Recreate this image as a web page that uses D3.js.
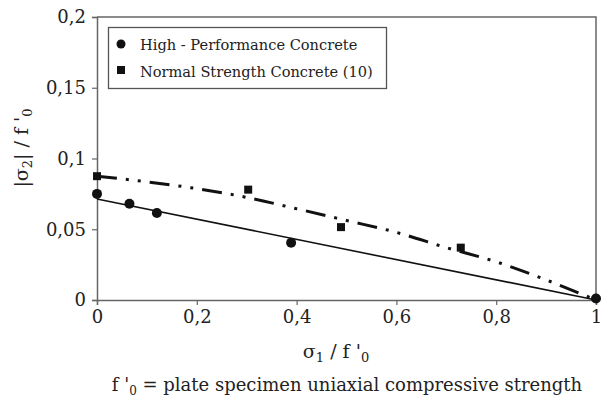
<!DOCTYPE html>
<html>
<head>
<meta charset="utf-8">
<script src="https://cdn.jsdelivr.net/npm/d3@7"></script>
<style>
  body { margin: 0; background: #fff; }
  svg text { font-family: "DejaVu Serif", "Liberation Serif", serif; }
</style>
</head>
<body>
<svg id="chart" width="602" height="399"></svg>
<script>
// high-performance concrete (circles)
var hpcX = [0, 0.065, 0.12, 0.389, 1];
var hpcY = [0.075, 0.068, 0.0615, 0.0405, 0.001];
// normal strength concrete (squares)
var nscX = [0, 0.303, 0.489, 0.729];
var nscY = [0.0875, 0.078, 0.0515, 0.037];
// fitted lines
var fitX = [0, 1];
var fitY = [0.0714, 0];
var curveX = [0, 0.1, 0.2, 0.3, 0.4, 0.5, 0.6, 0.7, 0.8, 0.9, 1];
var curveY = [0.0875, 0.0835, 0.0787, 0.0725, 0.0645, 0.0562, 0.0478, 0.037, 0.027, 0.0142, 0];

var xTicks = [0, 0.2, 0.4, 0.6, 0.8, 1];
var yTicks = [0, 0.05, 0.1, 0.15, 0.2];
var legendLabels = ["High - Performance Concrete", "Normal Strength Concrete (10)"];

var svg = d3.select("#chart");
var pLeft = 97, pRight = 596, pTop = 17, pBottom = 300;

var x = d3.scaleLinear().domain([0, 1]).range([pLeft, pRight]);
var y = d3.scaleLinear().domain([0, 0.2]).range([pBottom, pTop]);

function fmt(d){ return String(d).replace(".", ","); }

// frame (top and right)
svg.append("path")
  .attr("d", "M" + pLeft + "," + pTop + "H" + pRight + "V" + pBottom)
  .attr("fill", "none").attr("stroke", "#666").attr("stroke-width", 1.5);

var xAxis = svg.append("g")
  .attr("transform", "translate(0," + pBottom + ")")
  .call(d3.axisBottom(x).tickValues(xTicks).tickFormat(fmt).tickSize(5).tickPadding(5));
var yAxis = svg.append("g")
  .attr("transform", "translate(" + pLeft + ",0)")
  .call(d3.axisLeft(y).tickValues(yTicks).tickFormat(fmt).tickSize(5).tickPadding(6));

[xAxis, yAxis].forEach(function(a){
  a.attr("font-family", null);
  a.select(".domain").attr("stroke", "#666").attr("stroke-width", 1.5);
  a.selectAll(".tick line").attr("stroke", "#666").attr("stroke-width", 1.2);
  a.selectAll("text").attr("font-size", 18).attr("fill", "#222");
});

var line = d3.line().x(function(d){ return x(d[0]); }).y(function(d){ return y(d[1]); });

svg.append("path")
  .datum(d3.zip(fitX, fitY))
  .attr("d", line)
  .attr("fill", "none").attr("stroke", "#111").attr("stroke-width", 1.6);

svg.append("path")
  .datum(d3.zip(curveX, curveY))
  .attr("d", line.curve(d3.curveMonotoneX))
  .attr("fill", "none").attr("stroke", "#111").attr("stroke-width", 3)
  .attr("stroke-dasharray", "20 9 3 9 3 9");

svg.selectAll(".hpc")
  .data(d3.zip(hpcX, hpcY))
  .enter().append("circle")
  .attr("class", "hpc")
  .attr("cx", function(d){ return x(d[0]); })
  .attr("cy", function(d){ return y(d[1]); })
  .attr("r", 5)
  .attr("fill", "#111");

svg.selectAll(".nsc")
  .data(d3.zip(nscX, nscY))
  .enter().append("rect")
  .attr("class", "nsc")
  .attr("x", function(d){ return x(d[0]) - 4; })
  .attr("y", function(d){ return y(d[1]) - 4; })
  .attr("width", 8).attr("height", 8)
  .attr("fill", "#111");

// legend
var lg = svg.append("g");
lg.append("rect")
  .attr("x", 108.5).attr("y", 27.5).attr("width", 278).attr("height", 61)
  .attr("fill", "#fff").attr("stroke", "#555").attr("stroke-width", 1.3);
lg.append("circle").attr("cx", 121).attr("cy", 44).attr("r", 4.5).attr("fill", "#111");
lg.append("rect").attr("x", 117).attr("y", 66).attr("width", 8).attr("height", 8).attr("fill", "#111");
lg.selectAll("text")
  .data(legendLabels)
  .enter().append("text")
  .attr("x", 140)
  .attr("y", function(d, i){ return 50 + i * 27; })
  .attr("font-size", 14.6).attr("fill", "#222")
  .text(function(d){ return d; });

// axis titles
var xt = svg.append("text")
  .attr("x", 336).attr("y", 358)
  .attr("text-anchor", "middle").attr("font-size", 19).attr("fill", "#222");
xt.append("tspan").text("σ");
xt.append("tspan").attr("font-size", 13).attr("dy", 4).text("1");
xt.append("tspan").attr("dy", -4).text(" / f '");
xt.append("tspan").attr("font-size", 13).attr("dy", 4).text("0");

var yt = svg.append("text")
  .attr("transform", "translate(28,148) rotate(-90)")
  .attr("text-anchor", "middle").attr("font-size", 19).attr("fill", "#222");
yt.append("tspan").text("|σ");
yt.append("tspan").attr("font-size", 13).attr("dy", 4).text("2");
yt.append("tspan").attr("dy", -4).text("| / f '");
yt.append("tspan").attr("font-size", 13).attr("dy", 4).text("0");

var ft = svg.append("text")
  .attr("x", 347).attr("y", 391)
  .attr("text-anchor", "middle").attr("font-size", 18).attr("fill", "#222");
ft.append("tspan").text("f '");
ft.append("tspan").attr("font-size", 12).attr("dy", 4).text("0");
ft.append("tspan").attr("dy", -4).text(" = plate specimen uniaxial compressive strength");
</script>
</body>
</html>
